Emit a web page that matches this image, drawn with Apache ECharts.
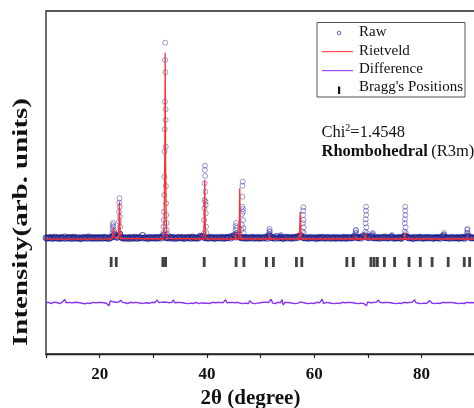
<!DOCTYPE html>
<html>
<head>
<meta charset="utf-8">
<script src="https://cdn.jsdelivr.net/npm/echarts@6/dist/echarts.min.js"></script>
<style>
  html, body { margin: 0; padding: 0; background: #fff; }
  #chart { width: 474px; height: 408px; }
</style>
</head>
<body>
<div id="chart"></div>
<script>
// Scan grid for the measured pattern and the difference curve (2θ, degrees)
const angleStart = 10;
const angleStep = 0.25;

// Observed intensity on the background, one value per grid step (10° … 90°)
const rawBaseline = [
  102, 96, 105, 99, 108, 94, 101, 110, 97, 103, 92, 106, 100, 98, 112, 95, 104, 99, 107, 93,
  101, 109, 96, 103, 98, 105, 91, 100, 107, 97, 104, 95, 111, 99, 102, 94, 106, 100, 96, 108,
  99, 103, 95, 110, 101, 97, 105, 93, 102, 108, 120, 135, 112, 104, 118, 140, 110, 101, 96, 105,
  98, 104, 92, 107, 100, 96, 109, 102, 94, 106, 99, 103, 128, 97, 105, 100, 93, 108, 101, 97,
  104, 99, 106, 95, 102, 110, 98, 115, 130, 108, 101, 97, 112, 104, 96, 107, 100, 94, 103, 109,
  97, 102, 106, 93, 100, 108, 99, 104, 95, 111, 101, 98, 105, 96, 103, 120, 110, 118, 104, 99,
  105, 96, 102, 109, 98, 101, 94, 107, 100, 103, 97, 110, 99, 95, 106, 101, 104, 112, 98, 115,
  125, 118, 108, 130, 112, 104, 99, 106, 101, 95, 108, 100, 97, 104, 110, 96, 102, 99, 107, 94,
  101, 105, 98, 104, 110, 96, 122, 115, 103, 99, 107, 95, 118, 102, 98, 106, 100, 93, 104, 109,
  97, 102, 108, 95, 101, 106, 99, 112, 104, 120, 128, 110, 103, 97, 105, 100, 94, 107, 102, 98,
  104, 99, 93, 106, 101, 97, 110, 103, 96, 105, 100, 108, 95, 102, 99, 107, 94, 101, 105, 98,
  103, 96, 109, 100, 94, 106, 102, 98, 107, 101, 118, 112, 104, 99, 108, 97, 115, 125, 110, 120,
  106, 100, 112, 118, 103, 97, 105, 99, 108, 95, 102, 106, 100, 111, 97, 104, 98, 107, 112, 101,
  96, 103, 99, 106, 101, 94, 108, 115, 122, 110, 104, 98, 105, 100, 93, 107, 102, 97, 104, 109,
  98, 103, 95, 106, 100, 108, 97, 102, 105, 94, 101, 107, 99, 104, 96, 110, 118, 103, 99, 106,
  100, 95, 104, 108, 97, 102, 99, 106, 94, 103, 101, 109, 96, 105, 112, 120, 108, 99, 104, 100,
  98
];

// Observed points on the reflections: [2θ, intensity]
const rawPeakPoints = [
  [22.35, 150], [22.40, 190], [22.45, 230], [22.50, 250], [22.55, 213], [22.60, 173], [22.65, 130],
  [23.55, 163], [23.60, 263], [23.63, 363], [23.66, 453], [23.70, 497], [23.74, 413], [23.78, 313], [23.82, 213], [23.86, 140],
  [31.85, 150], [31.90, 213], [31.95, 280], [32.00, 363], [32.04, 530], [32.08, 713], [32.11, 963], [32.14, 1187],
  [32.17, 1463], [32.20, 1880], [32.23, 2053], [32.26, 1757], [32.29, 1387], [32.31, 1280], [32.33, 1013], [32.36, 620],
  [32.39, 447], [32.43, 330], [32.47, 250], [32.52, 180], [32.58, 140],
  [39.45, 147], [39.50, 280], [39.53, 397], [39.56, 480], [39.59, 647], [39.62, 780], [39.65, 823], [39.68, 720],
  [39.71, 563], [39.74, 463], [39.77, 430], [39.80, 347], [39.85, 213], [39.90, 150],
  [45.30, 140], [45.35, 180], [45.40, 220], [45.45, 250], [45.50, 200], [45.55, 150],
  [46.45, 180], [46.50, 230], [46.55, 340], [46.58, 413], [46.61, 513], [46.64, 623], [46.67, 663], [46.70, 390],
  [46.73, 363], [46.76, 280], [46.80, 200], [46.85, 150],
  [51.60, 140], [51.65, 170], [51.70, 190], [51.75, 160], [51.80, 130],
  [53.75, 120], [53.80, 130], [53.85, 115],
  [57.85, 163], [57.90, 247], [57.93, 330], [57.96, 373], [57.99, 407], [58.02, 280], [58.05, 207], [58.10, 150],
  [67.70, 150], [67.75, 175], [67.80, 180], [67.85, 150],
  [69.55, 163], [69.60, 247], [69.63, 287], [69.66, 373], [69.69, 413], [69.72, 330], [69.75, 207], [69.80, 150],
  [70.85, 130], [70.90, 150], [70.95, 140],
  [74.45, 120], [74.50, 130],
  [76.85, 163], [76.90, 247], [76.93, 287], [76.96, 373], [76.99, 413], [77.02, 330], [77.05, 207], [77.10, 150],
  [84.15, 130], [84.20, 150], [84.25, 135],
  [88.50, 150], [88.55, 180], [88.60, 190], [88.65, 150]
];

// Calculated (Rietveld) profile: [2θ, intensity]
const calcPoints = [
  [10, 88], [22.30, 88], [22.45, 120], [22.55, 200], [22.65, 110], [22.80, 90],
  [23.55, 95], [23.70, 463], [23.85, 95], [24.00, 88],
  [31.90, 90], [32.05, 300], [32.15, 900], [32.22, 1953], [32.30, 900], [32.40, 300], [32.55, 95], [32.70, 88],
  [39.35, 90], [39.50, 250], [39.60, 680], [39.68, 250], [39.80, 90],
  [45.25, 90], [45.35, 150], [45.45, 90],
  [45.95, 90], [46.05, 250], [46.13, 597], [46.21, 250], [46.32, 90],
  [51.60, 90], [51.68, 130], [51.76, 90],
  [57.22, 90], [57.32, 200], [57.40, 360], [57.48, 200], [57.58, 90],
  [67.70, 90], [67.78, 120], [67.86, 90],
  [69.50, 90], [69.60, 150], [69.70, 90],
  [76.80, 90], [76.90, 150], [77.00, 90],
  [88.50, 90], [88.60, 115], [88.70, 90], [90, 88]
];

// Observed minus calculated, shifted below the pattern, one value per grid step
const diffValues = [
  -548, -556, -543, -553, -557, -547, -542, -554, -545, -551, -556, -546, -543, -553, -515, -548, -555, -544, -551, -547,
  -554, -545, -551, -543, -556, -548, -544, -553, -547, -557, -545, -551, -543, -555, -549, -544, -556, -547, -553, -545,
  -551, -544, -555, -547, -543, -553, -548, -578, -528, -545, -538, -556, -543, -549, -541, -555, -522, -544, -553, -548,
  -545, -555, -547, -543, -553, -548, -556, -544, -551, -547, -542, -555, -545, -551, -557, -547, -544, -553, -548, -543,
  -553, -547, -556, -520, -545, -551, -544, -562, -540, -548, -543, -555, -547, -553, -544, -518, -548, -556, -545, -551,
  -544, -555, -547, -543, -553, -548, -556, -545, -551, -544, -555, -547, -543, -551, -556, -545, -548, -536, -553, -547,
  -551, -544, -555, -547, -543, -553, -548, -556, -545, -551, -544, -555, -547, -543, -518, -548, -556, -545, -551, -544,
  -555, -547, -561, -543, -538, -553, -548, -556, -545, -551, -544, -555, -528, -543, -553, -548, -556, -545, -551, -544,
  -547, -556, -543, -548, -542, -553, -545, -558, -512, -551, -544, -555, -547, -543, -553, -548, -515, -570, -545, -551,
  -544, -555, -547, -543, -553, -548, -556, -545, -551, -544, -538, -555, -547, -543, -553, -548, -556, -545, -551, -544,
  -555, -547, -543, -553, -548, -545, -512, -556, -551, -544, -555, -547, -543, -553, -548, -556, -545, -551, -544, -555,
  -547, -543, -553, -548, -556, -545, -551, -544, -555, -547, -543, -553, -548, -556, -545, -551, -544, -555, -547, -578,
  -540, -553, -548, -556, -545, -551, -544, -555, -520, -543, -553, -548, -556, -545, -551, -544, -555, -547, -543, -553,
  -548, -556, -545, -551, -544, -555, -547, -543, -553, -548, -556, -545, -551, -544, -555, -518, -547, -543, -553, -548,
  -556, -545, -551, -544, -555, -547, -526, -543, -553, -548, -556, -545, -551, -544, -555, -547, -543, -553, -548, -556,
  -545, -551, -544, -555, -547, -543, -553, -548, -556, -545, -551, -544, -555, -547, -543, -553, -548, -556, -545, -551,
  -548
];

// Reflection positions of the rhombohedral phase (2θ)
const braggAngles = [
  22.15, 23.1, 31.8, 32.3, 39.5, 45.45, 46.9, 51.1, 52.4, 56.7, 57.7,
  66.1, 67.3, 70.6, 71.2, 71.8, 73.1, 75.0, 77.7, 79.8, 82.0, 85.0, 88.0, 89.0
];
const braggLevel = -140;

const xTickLabels = [20, 40, 60, 80];

const serif = '"Liberation Serif", "Times New Roman", serif';

const baselineData = rawBaseline.map((v, i) => [angleStart + i * angleStep, v]);
const diffData = diffValues.map((v, i) => [angleStart + i * angleStep, v]);
const braggData = braggAngles.map(a => [a, braggLevel]);

const chart = echarts.init(document.getElementById('chart'), null, { renderer: 'canvas' });

chart.setOption({
  animation: false,
  backgroundColor: '#fff',
  // the plot frame runs past the right edge of the canvas
  grid: {
    left: 46, top: 11, width: 429, height: 343, outerBoundsMode: 'none',
    show: true, borderColor: '#222', borderWidth: 1.3, backgroundColor: 'transparent'
  },
  xAxis: {
    type: 'value', min: 10, max: 90, interval: 10,
    name: '2θ (degree)',
    nameLocation: 'middle',
    nameGap: 31,
    nameTextStyle: { fontFamily: serif, fontWeight: 'bold', fontSize: 21, color: '#111', padding: [0, 20, 0, 0] },
    axisLine: { show: true, onZero: false, lineStyle: { color: '#222', width: 1.3 } },
    axisTick: { show: true, inside: false, length: 4, lineStyle: { color: '#222', width: 1.2 } },
    axisLabel: {
      fontFamily: serif, fontWeight: 'bold', fontSize: 17, color: '#111', margin: 12,
      formatter: v => (xTickLabels.indexOf(v) >= 0 ? String(v) : '')
    },
    splitLine: { show: false }
  },
  yAxis: {
    type: 'value', min: -1060, max: 2370,
    axisLine: { show: false }, axisTick: { show: false }, axisLabel: { show: false },
    splitLine: { show: false }
  },
  series: [
    {
      name: 'Raw', type: 'scatter', data: baselineData,
      symbol: 'circle', symbolSize: 5.5,
      itemStyle: { color: 'transparent', borderColor: 'rgba(22,22,130,0.85)', borderWidth: 1.1 },
      z: 2
    },
    {
      name: 'Raw', type: 'scatter', data: rawPeakPoints,
      symbol: 'circle', symbolSize: 5,
      itemStyle: { color: 'transparent', borderColor: 'rgba(45,45,165,0.6)', borderWidth: 1 },
      z: 2
    },
    {
      name: 'Rietveld', type: 'line', data: calcPoints,
      symbol: 'none',
      lineStyle: { color: '#ff3030', width: 1.3 },
      z: 3
    },
    {
      name: 'Difference', type: 'line', data: diffData,
      symbol: 'none',
      lineStyle: { color: '#8a35f0', width: 1.4 },
      z: 3
    },
    {
      name: "Bragg's Positions", type: 'scatter', data: braggData,
      symbol: 'rect', symbolSize: [2.8, 10],
      itemStyle: { color: '#111' },
      z: 4
    }
  ],
  graphic: [
    {
      type: 'text', x: 22, y: 222, rotation: Math.PI / 2, scaleX: 1.38,
      style: { text: 'Intensity(arb. units)', fontFamily: serif, fontWeight: 'bold', fontSize: 21, fill: '#111', align: 'center', verticalAlign: 'middle' }
    },
    {
      type: 'group', z: 10,
      children: [
        { type: 'rect', shape: { x: 317, y: 22.5, width: 148, height: 74.5 }, style: { fill: '#fff', stroke: '#555', lineWidth: 1 } },
        { type: 'circle', shape: { cx: 339, cy: 33, r: 1.8 }, style: { fill: 'none', stroke: 'rgba(40,40,160,0.7)', lineWidth: 1 } },
        { type: 'rect', shape: { x: 322, y: 51, width: 31, height: 1.2 }, style: { fill: '#ff4a4a' } },
        { type: 'rect', shape: { x: 322, y: 70, width: 31, height: 1.2 }, style: { fill: '#9a4af5' } },
        { type: 'rect', shape: { x: 338, y: 86.5, width: 2.2, height: 7.5 }, style: { fill: '#111' } },
        { type: 'text', x: 359, y: 32.2, style: { text: 'Raw', fontFamily: serif, fontSize: 15, fill: '#111', verticalAlign: 'middle' } },
        { type: 'text', x: 359, y: 50.6, style: { text: 'Rietveld', fontFamily: serif, fontSize: 15, fill: '#111', verticalAlign: 'middle' } },
        { type: 'text', x: 359, y: 69, style: { text: 'Difference', fontFamily: serif, fontSize: 15, fill: '#111', verticalAlign: 'middle' } },
        { type: 'text', x: 359, y: 87.4, style: { text: "Bragg's Positions", fontFamily: serif, fontSize: 15, fill: '#111', verticalAlign: 'middle' } }
      ]
    },
    {
      type: 'text', x: 321.5, y: 132.5, z: 10,
      style: {
        text: '{a|Chi}{s|2}{a|=1.4548}',
        verticalAlign: 'middle',
        rich: {
          a: { fontFamily: serif, fontSize: 16.5, fill: '#111', color: '#111', lineHeight: 18 },
          s: { fontFamily: serif, fontSize: 10, fill: '#111', color: '#111', lineHeight: 18, verticalAlign: 'top', padding: [0, 0, 8, 0] }
        }
      }
    },
    {
      type: 'text', x: 321.5, y: 152, z: 10,
      style: {
        text: '{b|Rhombohedral} {r|(R3m)}',
        verticalAlign: 'middle',
        rich: {
          b: { fontFamily: serif, fontWeight: 'bold', fontSize: 16.5, fill: '#111', color: '#111' },
          r: { fontFamily: serif, fontSize: 16.5, fill: '#111', color: '#111' }
        }
      }
    }
  ]
});
</script>
</body>
</html>
